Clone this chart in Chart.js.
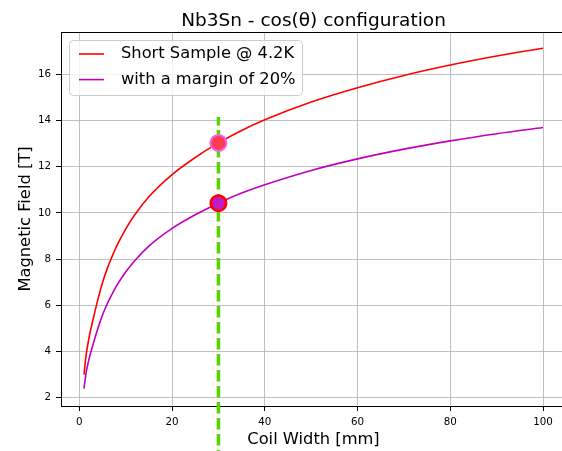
<!DOCTYPE html>
<html><head><meta charset="utf-8">
<script src="https://cdn.jsdelivr.net/npm/chart.js@4/dist/chart.umd.min.js"></script>
<style>html,body{margin:0;padding:0;overflow:hidden;background:#fff}canvas{display:block}</style>
</head><body>
<canvas id="c" width="567" height="451"></canvas>
<script>
// ---- data ----
const coilWidth   = [1,1.5,2,3,4,5,6,7,8,10,12,15,20,25,30,35,40,50,60,70,80,90,100];
const shortSample = [3.0,3.9,4.5,5.42,6.25,6.98,7.58,8.08,8.54,9.3,9.93,10.7,11.66,12.4,13.03,13.57,14.03,14.8,15.42,15.95,16.4,16.79,17.13];
const margin20    = [2.4,3.12,3.6,4.34,5.0,5.58,6.06,6.46,6.83,7.44,7.94,8.56,9.33,9.92,10.42,10.86,11.22,11.84,12.34,12.76,13.12,13.43,13.7];
const operatingWidth = [30];
const operatingShort = [13.03];
const operatingMargin = [10.42];
const markerLineY = [14.15, -0.6];
const xTicks = [0,20,40,60,80,100];
const yTicks = [2,4,6,8,10,12,14,16];
const seriesLabels = ['Short Sample @ 4.2K','with a margin of 20%'];
const chartTitle = 'Nb3Sn - cos(θ) configuration';
const xTitle = 'Coil Width [mm]';
const yTitle = 'Magnetic Field [T]';

const FONT = 'DejaVu Sans';
const toXY = (xs, ys) => ys.map((v,i)=>({x:xs[i], y:v}));

const framePlugin = {
  id:'frame',
  beforeDatasetsDraw(chart){
    const {ctx, chartArea:a} = chart;
    ctx.save();
    ctx.strokeStyle='#000'; ctx.lineWidth=1;
    ctx.beginPath(); ctx.moveTo(a.left, a.top+0.5); ctx.lineTo(a.right+2, a.top+0.5); ctx.stroke();
    ctx.restore();
  }
};

const legendPlugin = {
  id:'boxLegend',
  afterDraw(chart){
    const ctx = chart.ctx;
    const items = chart.data.datasets.filter(d=>d.legendEntry);
    ctx.save();
    ctx.beginPath();
    ctx.roundRect(69.5, 40.5, 233, 55, 4);
    ctx.fillStyle='rgba(255,255,255,0.8)'; ctx.fill();
    ctx.strokeStyle='#cccccc'; ctx.lineWidth=1; ctx.stroke();
    ctx.font = '16.3px "'+FONT+'"';
    ctx.textBaseline='middle'; ctx.textAlign='left';
    items.forEach((d,i)=>{
      const yy = 54 + i*25.6;
      ctx.strokeStyle=d.borderColor; ctx.lineWidth=1.6;
      ctx.beginPath(); ctx.moveTo(79, yy); ctx.lineTo(104, yy); ctx.stroke();
      ctx.fillStyle='#000';
      ctx.fillText(d.label, 121, yy);
    });
    ctx.restore();
  }
};

new Chart(document.getElementById('c'), {
  type:'scatter',
  data:{
    datasets:[
      {label:'op-short', data:toXY(operatingWidth, operatingShort), pointRadius:8, pointBorderWidth:2,
       pointBackgroundColor:'#ff3d52', pointBorderColor:'#f060ec', order:0},
      {label:'op-margin', data:toXY(operatingWidth, operatingMargin), pointRadius:7.7, pointBorderWidth:2.6,
       pointBackgroundColor:'#c41cc4', pointBorderColor:'#ff0000', order:0},
      {label:'coil', data:markerLineY.map(v=>({x:operatingWidth[0], y:v})), showLine:true, pointRadius:0,
       borderColor:'#58d400', borderWidth:3.5, borderDash:[11.5,4.5], borderDashOffset:3, clip:false, order:1},
      {label:seriesLabels[0], legendEntry:true, data:toXY(coilWidth, shortSample), showLine:true, pointRadius:0,
       borderColor:'#ff0000', borderWidth:1.6, cubicInterpolationMode:'monotone', order:2},
      {label:seriesLabels[1], legendEntry:true, data:toXY(coilWidth, margin20), showLine:true, pointRadius:0,
       borderColor:'#bf00bf', borderWidth:1.6, cubicInterpolationMode:'monotone', order:2}
    ]
  },
  options:{
    responsive:false, animation:false, devicePixelRatio:1,
    layout:{autoPadding:false, padding:{left:0,right:1,top:0,bottom:0}},
    plugins:{
      legend:{display:false}, tooltip:{enabled:false},
      title:{display:true, text:chartTitle, fullSize:false, color:'#000',
        font:{family:FONT, size:18.5, weight:'normal', lineHeight:1}, padding:{top:12,bottom:1.5}}
    },
    scales:{
      x:{type:'linear', min:-3.95, max:104.95,
        afterBuildTicks:s=>{s.ticks = xTicks.map(v=>({value:v}));},
        afterFit:s=>{s.height=45; s.paddingLeft=0; s.paddingRight=0;},
        ticks:{color:'#000', font:{family:FONT,size:10.3}, padding:5, maxRotation:0, callback:v=>String(v)},
        grid:{color:'#b0b0b0', lineWidth:0.8, tickColor:'#000', tickLength:5, tickWidth:1},
        border:{color:'#000', width:1},
        title:{display:true, text:xTitle, color:'#000', font:{family:FONT,size:16.3,lineHeight:1.2}, padding:{top:0,bottom:1}}
      },
      y:{type:'linear', min:1.645, max:17.83,
        afterBuildTicks:s=>{s.ticks = yTicks.map(v=>({value:v}));},
        afterFit:s=>{s.width=61; s.paddingTop=0; s.paddingBottom=0;},
        ticks:{color:'#000', font:{family:FONT,size:10.3}, padding:5, callback:v=>String(v)},
        grid:{color:'#b0b0b0', lineWidth:0.8, tickColor:'#000', tickLength:5, tickWidth:1},
        border:{color:'#000', width:1},
        title:{display:true, text:yTitle, color:'#000', font:{family:FONT,size:16.3,lineHeight:1.2}, padding:{top:16,bottom:0}}
      }
    }
  },
  plugins:[framePlugin, legendPlugin]
});
</script>
</body></html>
